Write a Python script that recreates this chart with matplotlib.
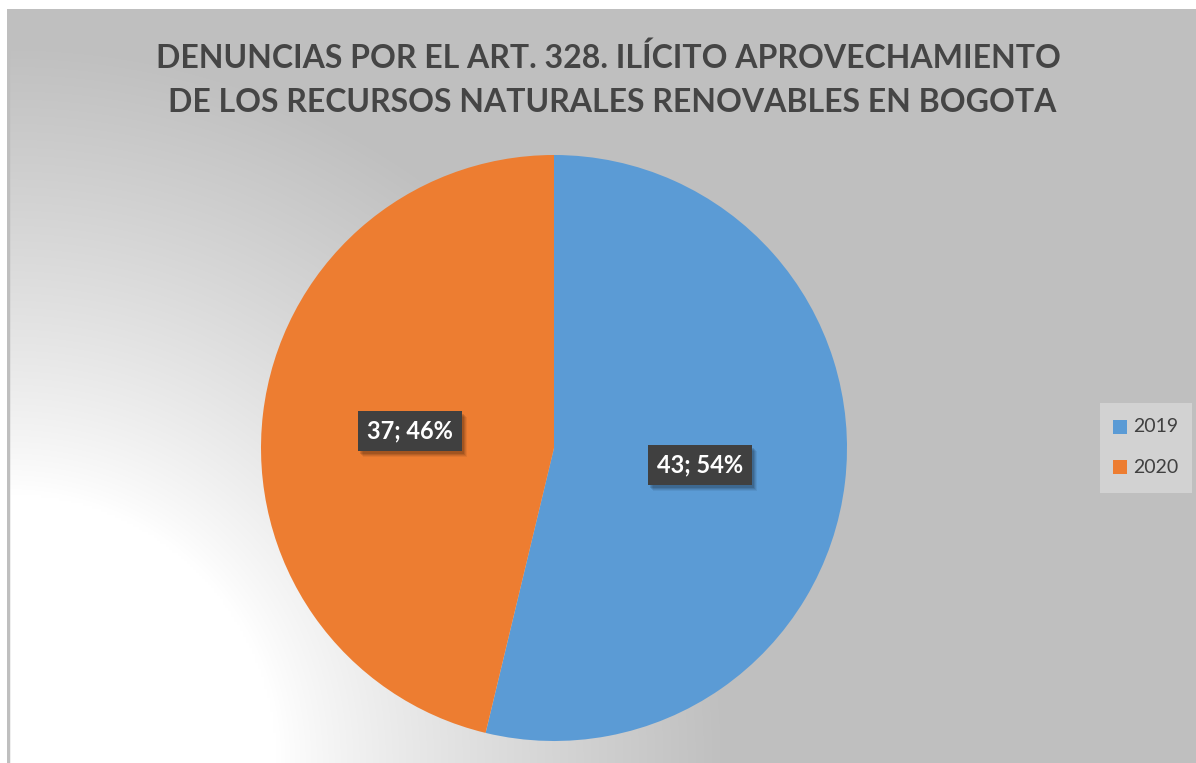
import numpy as np
import matplotlib
matplotlib.use("Agg")
import matplotlib.pyplot as plt
from matplotlib.patches import Rectangle

categories = ["2019", "2020"]
values = [43, 37]
colors = ["#5B9BD5", "#ED7D31"]
title_lines = ["DENUNCIAS POR EL ART. 328. ILÍCITO APROVECHAMIENTO",
               "DE LOS RECURSOS NATURALES RENOVABLES EN BOGOTA"]

W, H = 1196, 763
fig = plt.figure(figsize=(W / 100, H / 100), dpi=100)
fig.patch.set_facecolor("white")

# background gradient (chart area)
x0, y0 = 7, 9
bg = fig.add_axes([x0 / W, 0, 1 - x0 / W, 1 - y0 / H])
bg.set_axis_off()
nx, ny = 400, 260
xx, yy = np.meshgrid(np.linspace(0, W - x0, nx), np.linspace(0, H - y0, ny))
r = np.sqrt(xx ** 2 + yy ** 2)
t = np.clip((r - 270) / 450, 0, 1) ** 0.85
gray = 0.75
img = 1 - (1 - gray) * t
bg.imshow(np.dstack([img, img, img]), origin="lower", extent=[0, 1, 0, 1],
          aspect="auto", interpolation="bilinear")
bg.set_xlim(0, 1)
bg.set_ylim(0, 1)
bg.plot([0.001, 0.001], [0, 1], color="#bfbfbf", lw=2.5)

# pie
cx, cy, rad = 554, 448, 293
ax = fig.add_axes([(cx - rad) / W, (H - cy - rad) / H, 2 * rad / W, 2 * rad / H])
ax.set_axis_off()
wedges, _ = ax.pie(values, colors=colors, startangle=90, counterclock=False,
                   radius=1, wedgeprops=dict(linewidth=0))
ax.set_xlim(-1, 1)
ax.set_ylim(-1, 1)
ax.set_aspect("auto")

total = sum(values)
label_pos = [(700, 465), (410, 431)]
label_texts = []
for v, (px, py) in zip(values, label_pos):
    pct = round(100 * v / total)
    s = f"{v}; {pct}%"
    tx = fig.text(px / W, 1 - py / H, s, ha="center", va="center",
                  fontsize=17, fontweight="bold", color="white", family="Lato",
                  zorder=5,
                  bbox=dict(boxstyle="square,pad=0.38", facecolor="#404040",
                            edgecolor="none"))
    label_texts.append(tx)

# title
fig.text(608 / W, 1 - 58 / H, title_lines[0], ha="center", va="center",
         fontsize=23, fontweight="bold", color="#454545", family="Lato")
fig.text(612 / W, 1 - 102 / H, title_lines[1], ha="center", va="center",
         fontsize=23, fontweight="bold", color="#454545", family="Lato")

# legend
lx0, ly0, lx1, ly1 = 1100, 403, 1192, 493
fig.patches.append(Rectangle((lx0 / W, 1 - ly1 / H), (lx1 - lx0) / W,
                             (ly1 - ly0) / H, transform=fig.transFigure,
                             facecolor="#d2d2d2", edgecolor="none"))
for i in range(len(categories)):
    yc = 427 + 40 * i
    fig.patches.append(Rectangle((1113 / W, 1 - (yc + 7) / H), 14 / W, 14 / H,
                                 transform=fig.transFigure,
                                 facecolor=colors[i], edgecolor="none"))
    fig.text(1133 / W, 1 - yc / H, categories[i], ha="left", va="center",
             fontsize=14, color="#404040", family="Lato")

# soft shadows behind the data label boxes
fig.canvas.draw()
for tx in label_texts:
    ext = tx.get_bbox_patch().get_window_extent()
    for k, a in [(6, 0.06), (5, 0.08), (4, 0.10), (3, 0.12)]:
        fig.patches.append(Rectangle(((ext.x0 + k - 1) / W, (ext.y0 - k) / H),
                                     ext.width / W, ext.height / H,
                                     transform=fig.transFigure,
                                     facecolor="black", alpha=a,
                                     edgecolor="none", zorder=4))

fig.savefig("out.png", dpi=100)
